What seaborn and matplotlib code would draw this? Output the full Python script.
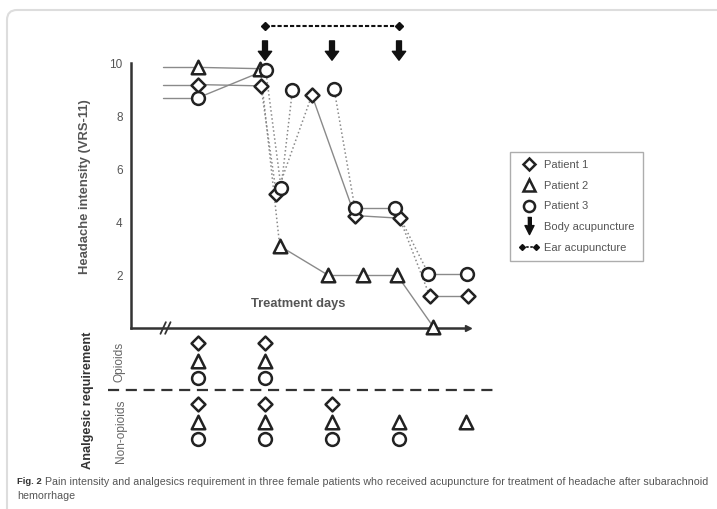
import numpy as np
import pandas as pd
import seaborn as sns
import matplotlib.pyplot as plt
from matplotlib.lines import Line2D
from matplotlib.patches import FancyBboxPatch, Rectangle
from matplotlib.legend_handler import HandlerLine2D

sns.set_style("white")
plt.rcParams['font.family'] = ['Liberation Sans', 'DejaVu Sans']

#%% data (x = treatment day, y = VRS-11)
patients = ['Patient 1', 'Patient 2', 'Patient 3']

p1_days = [0, 0.94, 1.17, 1.70, 2.34, 3.01, 3.46, 4.03]
p1_vrs = [9.2, 9.15, 5.05, 8.8, 4.25, 4.15, 1.2, 1.2]

p2_days = [0, 0.93, 1.22, 1.94, 2.46, 2.97, 3.51]
p2_vrs = [9.85, 9.8, 3.1, 2.0, 2.0, 2.0, 0.05]

p3_days = [0, 1.01, 1.24, 1.41, 2.03, 2.34, 2.94, 3.44, 4.02]
p3_vrs = [8.7, 9.75, 5.3, 9.0, 9.05, 4.55, 4.55, 2.05, 2.05]

# analgesic requirement, days per patient
opioid_days = [[0, 1], [0, 1], [0, 1]]
nonopioid_days = [[0, 1, 2], [0, 1, 2, 3, 4], [0, 1, 2, 3]]

body_acu_days = [1, 2, 3]
ear_acu_days = [1, 3]

y_ticks = [2, 4, 6, 8, 10]

#%% styles
p1_segs = ['-', ':', ':', '-', '-', ':', '-']
p2_segs = ['-', ':', '-', '-', '-', '-']
p3_segs = ['-', ':', ':', 'none', ':', '-', ':', '-']
markers = {'Patient 1': 'D', 'Patient 2': '^', 'Patient 3': 'o'}
msize = {'Patient 1': 50, 'Patient 2': 95, 'Patient 3': 85}
ink = '#222222'
grey = '#8a8a8a'
LEAD_X = -0.52

W, H = 717, 509
fig = plt.figure(figsize=(W / 100, H / 100), dpi=100)


def px_axes(x0, y0, x1, y1):
    return fig.add_axes([x0 / W, 1 - y1 / H, (x1 - x0) / W, (y1 - y0) / H])


def px_text(x, y, s, **kw):
    fig.text(x / W, 1 - y / H, s, **kw)


ax = px_axes(131, 15, 500, 328)
ax.set_xlim(-1, (500 - 198) / 67)
ax.set_ylim(0, (328 - 15) / 26.46)

series = [(p1_days, p1_vrs, p1_segs), (p2_days, p2_vrs, p2_segs), (p3_days, p3_vrs, p3_segs)]
for name, (days, vrs, segs) in zip(patients, series):
    # pre-treatment level drawn as a lead-in line
    ax.plot([LEAD_X, days[0]], [vrs[0], vrs[0]], color=grey, lw=1.0, zorder=1)
    for i, ls in enumerate(segs):
        if ls == 'none':
            continue
        ax.plot(days[i:i + 2], vrs[i:i + 2], color=grey, lw=1.1 if ls == ':' else 1.0,
                ls=ls, zorder=1)
    df = pd.DataFrame({'day': days, 'vrs': vrs})
    sns.scatterplot(data=df, x='day', y='vrs', marker=markers[name], s=msize[name],
                    facecolor='white', edgecolor=ink, linewidth=1.8, ax=ax,
                    zorder=3, clip_on=False)

# axes look
sns.despine(ax=ax)
ax.spines['left'].set_bounds(0, 10)
ax.spines['bottom'].set_bounds(-1, 4.0)
for sp in ['left', 'bottom']:
    ax.spines[sp].set_linewidth(1.8)
    ax.spines[sp].set_color('#333333')
ax.plot(4.03, 0, marker='>', ms=5, color='#333333', clip_on=False, zorder=2)
ax.set_xticks([0, 1, 2, 3])
ax.set_xticklabels([])
ax.set_yticks(y_ticks)
ax.tick_params(axis='x', direction='in', length=5, width=1.4, color='#333333')
ax.tick_params(axis='y', direction='out', length=5, width=1.4, color='#333333',
               labelsize=8.5, labelcolor='#555555', pad=1)
ax.set_xlabel('')
ax.set_ylabel('')

# axis break
ax.add_patch(Rectangle((-0.56, -0.2), 0.14, 0.4, color='white', clip_on=False, zorder=2))
for x0 in (-0.56, -0.49):
    ax.plot([x0, x0 + 0.08], [-0.22, 0.22], color='#333333', lw=1.3, clip_on=False, zorder=3)

# acupuncture markers
for d in body_acu_days:
    ax.annotate('', xy=(d, 10.12), xytext=(d, 10.85), annotation_clip=False,
                arrowprops=dict(arrowstyle='simple,head_length=0.4,head_width=0.6,tail_width=0.22',
                                color='#111111', mutation_scale=16, shrinkA=0, shrinkB=0))
ax.plot(ear_acu_days, [11.43, 11.43], color='#111111', lw=1.5, ls=(0, (2, 1)),
        marker='D', ms=4.5, clip_on=False)

px_text(298, 304, 'Treatment days', fontsize=9.3, fontweight='bold', color='#555555',
        ha='center', va='center')
px_text(85, 187, 'Headache intensity (VRS-11)', fontsize=9.4, fontweight='bold',
        color='#555555', rotation=90, ha='center', va='center')

# legend
handles = [Line2D([], [], ls='none', marker=markers[p], ms=8 if p != 'Patient 1' else 6.5,
                  mfc='white', mec=ink, mew=1.8) for p in patients]
arrow_verts = [(-0.2, 1), (0.2, 1), (0.2, 0.1), (0.5, 0.1), (0, -0.9), (-0.5, 0.1), (-0.2, 0.1)]
handles.append(Line2D([], [], ls='none', marker=arrow_verts, ms=13, color='#111111'))
ear_handle = Line2D([], [], color='#111111', lw=1.2, ls=(0, (1.5, 1)), marker='D', ms=3)
handles.append(ear_handle)
labels = patients + ['Body acupuncture', 'Ear acupuncture']
leg = ax.legend(handles, labels, loc='upper left', bbox_to_anchor=(510 / W, 1 - 152 / H),
                bbox_transform=fig.transFigure, frameon=True, fancybox=False,
                edgecolor='#999999', fontsize=8, labelspacing=0.95, handlelength=1.9,
                handletextpad=0.45, borderpad=0.75, borderaxespad=0,
                handler_map={ear_handle: HandlerLine2D(numpoints=2)})
leg.get_frame().set_linewidth(1.0)
for t in leg.get_texts():
    t.set_color('#555555')

#%% analgesic requirement panel
ax2 = px_axes(131, 330, 500, 470)
ax2.set_xlim(ax.get_xlim())
ax2.set_ylim(7.257, -0.743)
ax2.axis('off')

for k, name in enumerate(patients):
    rows = pd.DataFrame({
        'day': opioid_days[k] + nonopioid_days[k],
        'row': [k] * len(opioid_days[k]) + [k + 3.5] * len(nonopioid_days[k]),
    })
    sns.scatterplot(data=rows, x='day', y='row', marker=markers[name], s=msize[name],
                    facecolor='white', edgecolor=ink, linewidth=1.8, ax=ax2,
                    zorder=3, clip_on=False)
ax2.set_xlabel('')
ax2.set_ylabel('')
ax2.plot([-1.34, 4.46], [2.69, 2.69], color='#333333', lw=1.6, ls=(0, (5, 3)), clip_on=False)

px_text(88, 400, 'Analgesic requirement', fontsize=9.2, fontweight='bold', color='#333333',
        rotation=90, ha='center', va='center')
px_text(120, 362, 'Opioids', fontsize=8.6, color='#666666', rotation=90, ha='center', va='center')
px_text(121, 431, 'Non-opioids', fontsize=8.6, color='#666666', rotation=90, ha='center', va='center')

# caption
px_text(17, 482, 'Fig. 2', fontsize=6.8, fontweight='bold', color='#333333', va='center')
px_text(45, 482, 'Pain intensity and analgesics requirement in three female patients who received '
        'acupuncture for treatment of headache after subarachnoid', fontsize=7.7,
        color='#555555', va='center')
px_text(17, 496, 'hemorrhage', fontsize=7.7, color='#555555', va='center')

# page frame
frame = FancyBboxPatch((0.07, -1), 10, 4.99 + 1, boxstyle='round,pad=0,rounding_size=0.1',
                       transform=fig.dpi_scale_trans, fill=False, edgecolor='#dddddd', lw=1.5)
fig.patches.append(frame)

fig.savefig('out.png', dpi=100)
